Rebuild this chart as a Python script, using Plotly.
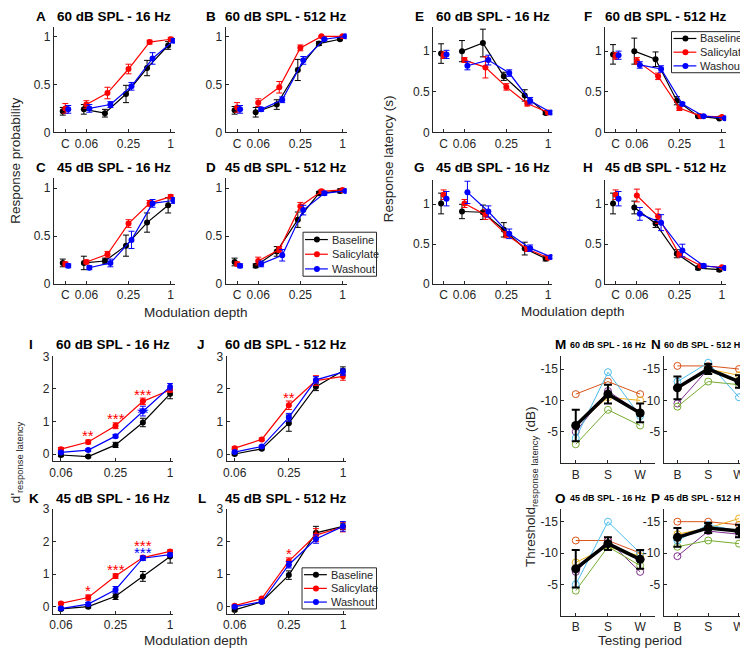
import math
import plotly.graph_objects as go

W, H = 748, 658          # browser window
OFF = 8                  # default page body margin
FW, FH = W - OFF, H - OFF

# ---------------- data ----------------
groups = ["Baseline", "Salicylate", "Washout"]
colors = {"Baseline": "#000000", "Salicylate": "#ff0000", "Washout": "#0000ff"}
depths = [0.0625, 0.125, 0.25, 0.5, 1.0]          # modulation depths
control_depth = 0.03125                           # display slot of the unmodulated control "C"
depth_tick_vals = [control_depth, 0.0625, 0.25, 1.0]
depth_tick_text = ["C", "0.06", "0.25", "1"]
dprime_tick_vals = [0.0625, 0.25, 1.0]
dprime_tick_text = ["0.06", "0.25", "1"]

# Response probability: [C, 0.06, 0.125, 0.25, 0.5, 1]
A_mean = {"Baseline": [0.22, 0.24, 0.20, 0.40, 0.67, 0.905],
          "Salicylate": [0.25, 0.29, 0.41, 0.66, 0.94, 0.97],
          "Washout": [0.24, 0.25, 0.29, 0.48, 0.77, 0.955]}
A_err = {"Baseline": [0.04, 0.05, 0.04, 0.09, 0.08, 0.04],
         "Salicylate": [0.05, 0.04, 0.06, 0.05, 0.02, 0.02],
         "Washout": [0.04, 0.04, 0.03, 0.04, 0.06, 0.02]}
B_mean = {"Baseline": [0.23, 0.21, 0.29, 0.65, 0.925, 0.97],
          "Salicylate": [0.26, 0.31, 0.47, 0.88, 1.0, 1.0],
          "Washout": [0.24, 0.24, 0.34, 0.75, 0.97, 1.0]}
B_err = {"Baseline": [0.04, 0.05, 0.05, 0.11, 0.02, 0.01],
         "Salicylate": [0.05, 0.04, 0.06, 0.03, 0.005, 0.005],
         "Washout": [0.04, 0.02, 0.03, 0.04, 0.01, 0.005]}
C_mean = {"Baseline": [0.22, 0.22, 0.24, 0.40, 0.64, 0.82],
          "Salicylate": [0.21, 0.23, 0.31, 0.63, 0.84, 0.91],
          "Washout": [0.19, 0.17, 0.22, 0.46, 0.84, 0.87]}
C_err = {"Baseline": [0.04, 0.07, 0.03, 0.11, 0.10, 0.08],
         "Salicylate": [0.02, 0.02, 0.03, 0.04, 0.03, 0.02],
         "Washout": [0.02, 0.02, 0.04, 0.09, 0.04, 0.03]}
D_mean = {"Baseline": [0.23, 0.19, 0.34, 0.67, 0.945, 0.97],
          "Salicylate": [0.21, 0.24, 0.36, 0.81, 0.965, 0.98],
          "Washout": [0.19, 0.21, 0.30, 0.77, 0.945, 0.97]}
D_err = {"Baseline": [0.04, 0.02, 0.05, 0.08, 0.02, 0.02],
         "Salicylate": [0.02, 0.04, 0.03, 0.04, 0.02, 0.01],
         "Washout": [0.02, 0.03, 0.06, 0.05, 0.02, 0.01]}

# Response latency (s): [C, 0.06, 0.125, 0.25, 0.5, 1]
E_mean = {"Baseline": [0.97, 1.00, 1.10, 0.69, 0.455, 0.24],
          "Salicylate": [0.95, 0.89, 0.80, 0.56, 0.355, 0.245],
          "Washout": [0.96, 0.82, 0.89, 0.73, 0.39, 0.245]}
E_err = {"Baseline": [0.12, 0.13, 0.17, 0.05, 0.07, 0.02],
         "Salicylate": [0.04, 0.03, 0.13, 0.04, 0.03, 0.02],
         "Washout": [0.05, 0.05, 0.06, 0.04, 0.04, 0.02]}
F_mean = {"Baseline": [0.96, 1.00, 0.90, 0.39, 0.20, 0.17],
          "Salicylate": [0.94, 0.88, 0.69, 0.30, 0.20, 0.19],
          "Washout": [0.95, 0.83, 0.78, 0.35, 0.20, 0.175]}
F_err = {"Baseline": [0.12, 0.16, 0.09, 0.05, 0.01, 0.01],
         "Salicylate": [0.04, 0.04, 0.04, 0.03, 0.01, 0.01],
         "Washout": [0.05, 0.04, 0.04, 0.02, 0.01, 0.01]}
G_mean = {"Baseline": [1.01, 0.91, 0.90, 0.68, 0.445, 0.32],
          "Salicylate": [1.12, 1.01, 0.87, 0.62, 0.44, 0.33],
          "Washout": [1.07, 1.15, 0.91, 0.63, 0.45, 0.34]}
G_err = {"Baseline": [0.13, 0.09, 0.09, 0.09, 0.08, 0.03],
         "Salicylate": [0.06, 0.05, 0.06, 0.04, 0.03, 0.02],
         "Washout": [0.09, 0.14, 0.07, 0.06, 0.04, 0.02]}
H_mean = {"Baseline": [1.01, 0.96, 0.76, 0.38, 0.20, 0.18],
          "Salicylate": [1.12, 1.11, 0.85, 0.37, 0.23, 0.21],
          "Washout": [1.07, 0.88, 0.77, 0.42, 0.23, 0.20]}
H_err = {"Baseline": [0.13, 0.08, 0.05, 0.05, 0.02, 0.02],
         "Salicylate": [0.06, 0.08, 0.09, 0.03, 0.02, 0.01],
         "Washout": [0.09, 0.08, 0.10, 0.08, 0.02, 0.01]}

# d' (response latency): [0.06, 0.125, 0.25, 0.5, 1]
I_mean = {"Baseline": [-0.03, -0.08, 0.28, 0.97, 1.85],
          "Salicylate": [0.15, 0.37, 0.87, 1.62, 1.97],
          "Washout": [0.05, 0.12, 0.55, 1.32, 2.07]}
I_err = {"Baseline": [0.05, 0.03, 0.08, 0.13, 0.15],
         "Salicylate": [0.05, 0.06, 0.09, 0.10, 0.07],
         "Washout": [0.04, 0.04, 0.05, 0.15, 0.10]}
J_mean = {"Baseline": [0.00, 0.16, 0.95, 2.07, 2.56],
          "Salicylate": [0.18, 0.45, 1.50, 2.26, 2.39],
          "Washout": [0.06, 0.23, 1.13, 2.28, 2.52]}
J_err = {"Baseline": [0.03, 0.03, 0.25, 0.12, 0.12],
         "Salicylate": [0.04, 0.04, 0.13, 0.15, 0.12],
         "Washout": [0.03, 0.03, 0.12, 0.10, 0.10]}
K_mean = {"Baseline": [-0.07, 0.00, 0.32, 0.93, 1.54],
          "Salicylate": [0.10, 0.28, 0.94, 1.51, 1.70],
          "Washout": [-0.06, 0.08, 0.52, 1.49, 1.60]}
K_err = {"Baseline": [0.05, 0.04, 0.10, 0.15, 0.20],
         "Salicylate": [0.04, 0.08, 0.07, 0.04, 0.04],
         "Washout": [0.04, 0.05, 0.10, 0.07, 0.05]}
L_mean = {"Baseline": [-0.10, 0.15, 0.97, 2.27, 2.47],
          "Salicylate": [0.03, 0.25, 1.40, 2.20, 2.45],
          "Washout": [0.00, 0.15, 1.29, 2.08, 2.47]}
L_err = {"Baseline": [0.04, 0.04, 0.13, 0.20, 0.10],
         "Salicylate": [0.03, 0.03, 0.10, 0.20, 0.15],
         "Washout": [0.03, 0.03, 0.10, 0.13, 0.15]}

# significance stars: (depth, y, text, group)
I_stars = [(0.125, 0.65, "**", "Salicylate"), (0.25, 1.17, "***", "Salicylate"),
           (0.5, 1.93, "***", "Salicylate"), (0.5, 1.36, "**", "Washout")]
J_stars = [(0.25, 1.84, "**", "Salicylate")]
K_stars = [(0.125, 0.60, "*", "Salicylate"), (0.25, 1.23, "***", "Salicylate"),
           (0.5, 1.98, "***", "Salicylate"), (0.5, 1.76, "***", "Washout")]
L_stars = [(0.25, 1.73, "*", "Salicylate")]

# Thresholds (dB), testing periods B, S, W
periods = ["B", "S", "W"]
animal_colors = ["#D95319", "#EDB120", "#7E2F8E", "#77AC30", "#4DBEEE"]
M_animals = [[-11, -13, -11], [-6, -10.5, -10], [-5, -11.5, -8], [-3, -8.5, -6], [-4, -14.5, -7.5]]
M_mean, M_err = [-6, -11, -8], [2.5, 1.5, 1.5]
N_animals = [[-15.5, -15.5, -15], [-12, -15, -14], [-9.5, -15, -13], [-9, -13, -12.5], [-13, -16, -10.5]]
N_mean, N_err = [-12, -15, -13], [1.8, 0.8, 1.0]
O_animals = [[-12, -12, -10], [-8.5, -11, -9.5], [-7, -12, -7], [-4, -11, -8], [-5, -15, -10]]
O_mean, O_err = [-7.5, -11.5, -9], [3.0, 1.0, 1.5]
P_animals = [[-15, -15, -14.5], [-13, -14, -15.5], [-9.5, -13.5, -13], [-11, -12, -11.5], [-12, -14.5, -13.5]]
P_mean, P_err = [-12.5, -14, -13.5], [1.5, 0.8, 1.0]

# ---------------- figure ----------------
fig = go.Figure()
layout = {}
annotations = []
shapes = []
AX = "#262626"
FONT = "Liberation Sans, Arial, sans-serif"
TITLE_SIZE = 13.5


def fx(px):
    return (px - OFF) / FW


def fy(py):
    return 1 - (py - OFF) / FH


def axkey(i, a):
    return f"{a}axis" if i == 1 else f"{a}axis{i}"


def axref(i, a):
    return a if i == 1 else f"{a}{i}"


def add_axes(i, box, xr, yr, xtv, xtt, ytv, ytt):
    x0, x1, y0, y1 = box
    common = dict(showline=True, linecolor=AX, linewidth=1, ticks="inside", ticklen=3,
                  tickcolor=AX, showgrid=False, zeroline=False, mirror=False,
                  tickfont=dict(size=12, color=AX, family=FONT), fixedrange=True)
    layout[axkey(i, "x")] = dict(domain=[fx(x0), min(1.0, fx(x1))], range=xr, anchor=axref(i, "y"),
                                 tickmode="array", tickvals=xtv, ticktext=xtt, **common)
    layout[axkey(i, "y")] = dict(domain=[fy(y1), fy(y0)], range=yr, anchor=axref(i, "x"),
                                 tickmode="array", tickvals=ytv, ticktext=ytt, **common)


def add_text(text, xpx, ypx, size, xanchor="center", bold=True):
    annotations.append(dict(text=f"<b>{text}</b>" if bold else text, x=fx(xpx), y=fy(ypx), xref="paper",
                            yref="paper", showarrow=False, font=dict(size=size, color="#000", family=FONT),
                            xanchor=xanchor, yanchor="middle"))


offsets = {"Baseline": -0.12, "Salicylate": 0.0, "Washout": 0.14}


def add_curve_panel(i, means, errs, with_control, jitter=True):
    for g in groups:
        col = colors[g]
        off = offsets[g] if jitter else 0.0
        xs = [math.log2(d) + off for d in depths]
        m = means[g]
        e = errs[g]
        if with_control:
            fig.add_trace(go.Scatter(x=[math.log2(control_depth) + off], y=[m[0]],
                                     error_y=dict(type="data", array=[e[0]], color=col, thickness=1, width=3),
                                     mode="markers", marker=dict(color=col, size=6),
                                     xaxis=axref(i, "x"), yaxis=axref(i, "y"), showlegend=False,
                                     name=g))
            m, e = m[1:], e[1:]
        fig.add_trace(go.Scatter(x=xs, y=m,
                                 error_y=dict(type="data", array=e, color=col, thickness=1, width=3),
                                 mode="lines+markers", line=dict(color=col, width=1.2),
                                 marker=dict(color=col, size=6),
                                 xaxis=axref(i, "x"), yaxis=axref(i, "y"), showlegend=False, name=g))


def add_stars(i, stars):
    for d, y, txt, g in stars:
        annotations.append(dict(text=txt, x=math.log2(d), y=y, xref=axref(i, "x"), yref=axref(i, "y"),
                                showarrow=False, font=dict(size=15, color=colors[g], family=FONT),
                                xanchor="center", yanchor="middle", yshift=-3))


def add_threshold_panel(i, animals, mean, err):
    xs = [1, 2, 3]
    for a, col in zip(animals, animal_colors):
        fig.add_trace(go.Scatter(x=xs, y=a, mode="lines+markers", line=dict(color=col, width=1),
                                 marker=dict(symbol="circle-open", color=col, size=7, line=dict(width=1)),
                                 xaxis=axref(i, "x"), yaxis=axref(i, "y"), showlegend=False))
    fig.add_trace(go.Scatter(x=xs, y=mean, mode="lines+markers", line=dict(color="#000", width=3.5),
                             marker=dict(color="#000", size=9),
                             error_y=dict(type="data", array=err, color="#000", thickness=2, width=4),
                             xaxis=axref(i, "x"), yaxis=axref(i, "y"), showlegend=False))


def add_legend(x0, y0, x1, y1):
    shapes.append(dict(type="rect", xref="paper", yref="paper", x0=fx(x0), x1=fx(x1), y0=fy(y1), y1=fy(y0),
                       line=dict(color="#262626", width=1), fillcolor="white", layer="above"))
    rowh = (y1 - y0) / 3.0
    for k, g in enumerate(groups):
        yc = y0 + rowh * (k + 0.5)
        shapes.append(dict(type="line", xref="paper", yref="paper", x0=fx(x0 + 2), x1=fx(x0 + 25),
                           y0=fy(yc), y1=fy(yc), line=dict(color=colors[g], width=1.2), layer="above"))
        shapes.append(dict(type="circle", xref="paper", yref="paper", xsizemode="pixel", ysizemode="pixel",
                           xanchor=fx(x0 + 14), yanchor=fy(yc), x0=-3, x1=3, y0=-3, y1=3,
                           fillcolor=colors[g], line=dict(color=colors[g], width=0), layer="above"))
        annotations.append(dict(text=g, x=fx(x0 + 27), y=fy(yc), xref="paper", yref="paper",
                                showarrow=False, xanchor="left", yanchor="middle",
                                font=dict(size=11, color=AX, family=FONT)))


L2 = math.log2
prob_x = [L2(v) for v in depth_tick_vals]
dp_x = [L2(v) for v in dprime_tick_vals]

# Panels A-D (response probability)
panel_defs = [
    (1, "A", "60 dB SPL - 16 Hz", (50, 172, 20, 128), A_mean, A_err, 37, 10),
    (2, "B", "60 dB SPL - 512 Hz", (223, 345, 20, 128), B_mean, B_err, 208, 10),
    (3, "C", "45 dB SPL - 16 Hz", (50, 172, 175, 283), C_mean, C_err, 37, 164),
    (4, "D", "45 dB SPL - 512 Hz", (223, 345, 175, 283), D_mean, D_err, 208, 164),
]
for i, let, tit, box, m, e, lx, ty in panel_defs:
    add_axes(i, box, [-5.55, 0.2], [0, 1.1], prob_x, depth_tick_text, [0, 0.5, 1], ["0", "0.5", "1"])
    add_curve_panel(i, m, e, True)
    add_text(let, lx, ty, TITLE_SIZE)
    add_text(tit, (box[0] + box[1]) / 2, ty, TITLE_SIZE)

# Panels E-H (response latency)
panel_defs = [
    (5, "E", "60 dB SPL - 16 Hz", (432, 552, 20, 128), E_mean, E_err, 418, 10),
    (6, "F", "60 dB SPL - 512 Hz", (605, 727, 20, 128), F_mean, F_err, 588, 10),
    (7, "G", "45 dB SPL - 16 Hz", (432, 552, 177, 283), G_mean, G_err, 418, 164),
    (8, "H", "45 dB SPL - 512 Hz", (605, 727, 177, 283), H_mean, H_err, 588, 164),
]
for i, let, tit, box, m, e, lx, ty in panel_defs:
    add_axes(i, box, [-5.5, 0.2], [0, 1.3], prob_x, depth_tick_text, [0, 0.5, 1], ["0", "0.5", "1"])
    add_curve_panel(i, m, e, True)
    add_text(let, lx, ty, TITLE_SIZE)
    add_text(tit, (box[0] + box[1]) / 2, ty, TITLE_SIZE)

# Panels I-L (d')
panel_defs = [
    (9, "I", "60 dB SPL - 16 Hz", (49, 170, 357, 464), I_mean, I_err, I_stars, 27, 345),
    (10, "J", "60 dB SPL - 512 Hz", (224, 344, 357, 464), J_mean, J_err, J_stars, 198, 345),
    (11, "K", "45 dB SPL - 16 Hz", (49, 170, 513, 620), K_mean, K_err, K_stars, 30, 502),
    (12, "L", "45 dB SPL - 512 Hz", (224, 344, 513, 620), L_mean, L_err, L_stars, 199, 502),
]
for i, let, tit, box, m, e, st, lx, ty in panel_defs:
    add_axes(i, box, [-4.3, 0.1], [-0.22, 3], dp_x, dprime_tick_text, [0, 1, 2, 3], ["0", "1", "2", "3"])
    add_curve_panel(i, m, e, False, jitter=False)
    add_stars(i, st)
    add_text(let, lx, ty, TITLE_SIZE)
    add_text(tit, (box[0] + box[1]) / 2, ty, TITLE_SIZE)

# Panels M-P (thresholds)
panel_defs = [
    (13, "M", "60 dB SPL - 16 Hz", (561, 655, 357, 466), [0.55, 3.45], M_animals, M_mean, M_err, 560, 345, "l"),
    (14, "N", "60 dB SPL - 512 Hz", (664, 748, 357, 466), [0.55, 3.26], N_animals, N_mean, N_err, 656, 345, "n"),
    (15, "O", "45 dB SPL - 16 Hz", (561, 655, 513, 622), [0.55, 3.45], O_animals, O_mean, O_err, 560, 502, "l"),
    (16, "P", "45 dB SPL - 512 Hz", (664, 748, 513, 622), [0.55, 3.26], P_animals, P_mean, P_err, 656, 502, "n"),
]
for i, let, tit, box, xr, an, m, e, lx, ty, side in panel_defs:
    add_axes(i, box, xr, [0, -17], [1, 2, 3], periods, [-15, -10, -5], ["-15", "-10", "-5"])
    add_threshold_panel(i, an, m, e)
    add_text(let, lx, ty, TITLE_SIZE)
    if side == "l":
        add_text(tit, 608, ty, 9)
    else:
        add_text(tit, 748, ty, 9, xanchor="right")

# Legends
add_legend(301, 230, 375, 275)
add_legend(672, 25, 747, 67)
add_legend(300, 573, 375, 615)

# Axis labels
lab_font = dict(size=13.5, color=AX, family=FONT)
for txt, x, y, ang in [
    ("Response probability", 12, 157, -90),
    ("Response latency (s)", 387, 155, -90),
    ("d'<sub>response latency</sub>", 12, 465, -90),
    ("Threshold<sub>response latency</sub> (dB)", 531, 490, -90),
    ("Modulation depth", 193, 312, 0),
    ("Modulation depth", 573, 311, 0),
    ("Modulation depth", 193, 647, 0),
    ("Testing period", 640, 647, 0),
]:
    annotations.append(dict(text=txt, x=fx(x), y=fy(y), xref="paper", yref="paper", showarrow=False,
                            textangle=ang, font=lab_font, xanchor="center", yanchor="middle"))

layout.update(dict(width=FW, height=FH, margin=dict(l=0, r=0, t=0, b=0), paper_bgcolor="white",
                   plot_bgcolor="white", showlegend=False, annotations=annotations, shapes=shapes,
                   font=dict(family=FONT)))
fig.update_layout(**layout)
fig.write_html("out.html")
